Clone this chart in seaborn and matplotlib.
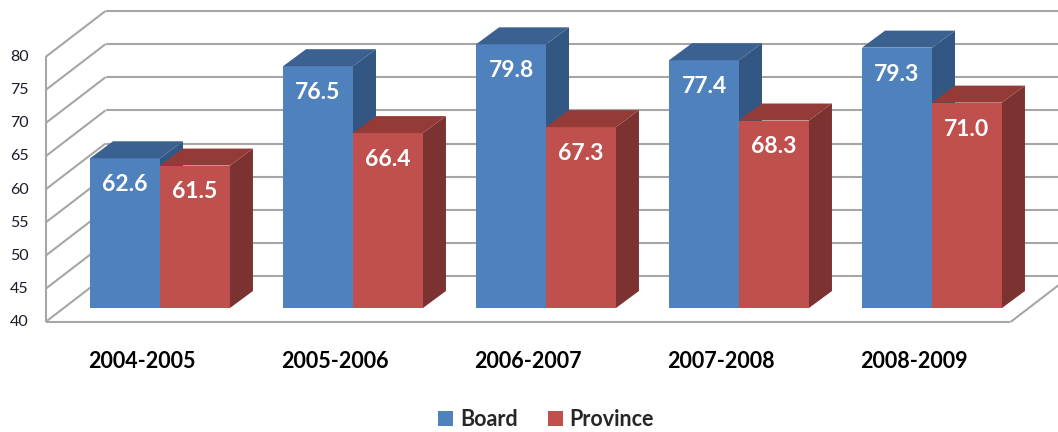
import pandas as pd
import matplotlib.pyplot as plt
import seaborn as sns
from matplotlib.patches import Polygon
from matplotlib.colors import to_hex

# data
years = ["2004-2005", "2005-2006", "2006-2007", "2007-2008", "2008-2009"]
board = [62.6, 76.5, 79.8, 77.4, 79.3]
province = [61.5, 66.4, 67.3, 68.3, 71.0]
series = ["Board", "Province"]
y_ticks = [40, 45, 50, 55, 60, 65, 70, 75, 80]

front_colors = {"Board": "#4F81BD", "Province": "#C0504D"}
top_colors = {"Board": "#3B6191", "Province": "#943B38"}
side_colors = {"Board": "#325782", "Province": "#7C3230"}
grid_color = "#A6A6A6"

df = pd.DataFrame({
    "Year": years * 2,
    "Series": [series[0]] * len(years) + [series[1]] * len(years),
    "Value": board + province,
})

sns.set_style("white")
plt.rcParams["font.family"] = ["Lato", "DejaVu Sans"]

fig = plt.figure(figsize=(10.58, 4.32), dpi=100)
# axes = front plane of the bars
ax = fig.add_axes([63.5 / 1058, 124 / 432, 965 / 1058, 265 / 432])
sns.barplot(data=df, x="Year", y="Value", hue="Series", hue_order=series,
            palette=front_colors, width=0.725, saturation=1, errorbar=None,
            linewidth=0, ax=ax)
ax.set_xlim(-0.5, 4.5)
ax.set_ylim(40, 80)
ax.set(xlabel="", ylabel="", xticks=[], yticks=[])
sns.despine(ax=ax, left=True, bottom=True)

# pixel -> data conversion for the fake 3D depth
p0 = ax.transData.transform((0, 40))
p1 = ax.transData.transform((1, 45))
kx = p1[0] - p0[0]
ky = (p1[1] - p0[1]) / 5


def shift(x, y, d):
    return (x + d[0] / kx, y + d[1] / ky)


FRONT = (-18, -14)   # front edge of the floor / side wall
BACK = (42, 32)      # back wall
DEPTH = (23, 17)     # depth of each bar
x0, x1 = ax.get_xlim()


def line(a, b):
    ax.plot([a[0], b[0]], [a[1], b[1]], color=grid_color, lw=1.5,
            zorder=0.5, clip_on=False, solid_capstyle="butt")


# walls and floor
for v in y_ticks:
    line(shift(x0, v, BACK), shift(x1 + 1, v, BACK))
    line(shift(x0, v, FRONT), shift(x0, v, BACK))
line(shift(x0, 40, FRONT), shift(x0, 80, FRONT))
line(shift(x0, 40, FRONT), shift(x1, 40, FRONT))
line(shift(x1, 40, FRONT), shift(x1, 40, BACK))

# y tick labels on the front edge
for v in y_ticks:
    tx, ty = shift(x0, v, (FRONT[0] - 17, FRONT[1]))
    ax.text(tx, ty, str(v), ha="right", va="center", fontsize=11.5,
            color="#1A1A2A", clip_on=False)

# category labels
for i, yr in enumerate(years):
    tx, ty = shift(i, 40, (FRONT[0], FRONT[1] - 40))
    ax.text(tx, ty, yr, ha="center", va="center", fontsize=15.5,
            fontweight="bold", color="black", clip_on=False)

# side and top faces of every bar, left to right
bars = sorted([p for p in ax.patches if p.get_height() > 0], key=lambda p: p.get_x())
for k, p in enumerate(bars):
    name = "Board" if to_hex(p.get_facecolor()) == front_colors["Board"].lower() else "Province"
    z = 2 + k
    p.set_zorder(z)
    left = p.get_x()
    right = left + p.get_width()
    h = p.get_height()
    side = [(right, 40), (right, h), shift(right, h, DEPTH), shift(right, 40, DEPTH)]
    top = [(left, h), (right, h), shift(right, h, DEPTH), shift(left, h, DEPTH)]
    ax.add_patch(Polygon(side, closed=True, facecolor=side_colors[name],
                         edgecolor="none", zorder=z, clip_on=False))
    ax.add_patch(Polygon(top, closed=True, facecolor=top_colors[name],
                         edgecolor="none", zorder=z, clip_on=False))
    ax.annotate(f"{h:.1f}", (left + p.get_width() / 2, h), xytext=(0, -19),
                textcoords="offset points", ha="center", va="center",
                fontsize=16.5, fontweight="bold", color="white", zorder=z + 0.5)

handles, labels = ax.get_legend_handles_labels()
if ax.get_legend() is not None:
    ax.get_legend().remove()
fig.legend(handles, labels, loc="center", bbox_to_anchor=(0.516, 0.028), ncol=2,
           frameon=False, prop={"weight": "bold", "size": 15.5},
           handlelength=0.7, handleheight=0.7, handletextpad=0.3,
           columnspacing=1.4)

fig.savefig("out.png", dpi=100)
